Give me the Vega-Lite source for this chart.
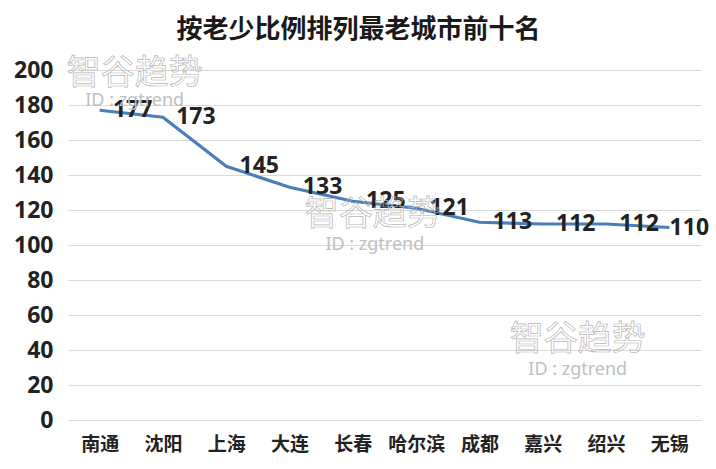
{"$schema":"https://vega.github.io/schema/vega-lite/v6.json","width":633,"height":350,"padding":{"left":68,"top":70,"right":15,"bottom":49},"autosize":{"type":"none"},"background":"white","view":{"stroke":null},"title":{"text":"按老少比例排列最老城市前十名","font":"Noto Sans CJK SC","fontSize":26,"fontWeight":"bold","color":"#1a1a1a","anchor":"middle","dx":-26,"offset":14},"datasets":{"main":[{"city":"南通","v":177},{"city":"沈阳","v":173},{"city":"上海","v":145},{"city":"大连","v":133},{"city":"长春","v":125},{"city":"哈尔滨","v":121},{"city":"成都","v":113},{"city":"嘉兴","v":112},{"city":"绍兴","v":112},{"city":"无锡","v":110}]},"encoding":{"x":{"field":"city","type":"nominal","sort":["南通","沈阳","上海","大连","长春","哈尔滨","成都","嘉兴","绍兴","无锡"],"scale":{"type":"point","padding":0.5},"axis":{"title":null,"labelAngle":0,"labelFont":"Noto Sans CJK SC","labelFontSize":19,"labelFontWeight":"bold","labelColor":"#222222","domainColor":"#d9d9d9","ticks":false,"labelPadding":15,"grid":false}},"y":{"field":"v","type":"quantitative","scale":{"domain":[0,200]},"axis":{"title":null,"values":[0,20,40,60,80,100,120,140,160,180,200],"labelOverlap":false,"labelFont":"Noto Sans","labelFontSize":23,"labelFontWeight":"bold","labelColor":"#222222","domain":false,"ticks":false,"gridColor":"#d9d9d9","labelPadding":15}}},"layer":[{"data":{"name":"main"},"mark":{"type":"line","color":"#4a7ebb","strokeWidth":3.2}},{"data":{"name":"main"},"transform":[{"filter":"datum.city !== '无锡'"}],"mark":{"type":"text","font":"Noto Sans","fontSize":23,"fontWeight":"bold","color":"#222222","align":"center","dx":33},"encoding":{"text":{"field":"v","type":"quantitative"}}},{"data":{"name":"main"},"transform":[{"filter":"datum.city === '无锡'"}],"mark":{"type":"text","font":"Noto Sans","fontSize":23,"fontWeight":"bold","color":"#222222","align":"center","dx":20},"encoding":{"text":{"field":"v","type":"quantitative"}}},{"data":{"values":[{"city":"南通","v":198,"t":"智谷趋势"},{"city":"嘉兴","v":45.5,"t":"智谷趋势"}]},"mark":{"type":"text","font":"Noto Sans CJK SC","fontSize":34,"fill":"transparent","stroke":"#b5b5b5","strokeWidth":0.7,"align":"center","dx":35},"encoding":{"text":{"field":"t"}}},{"data":{"values":[{"city":"长春","v":117,"t":"智谷趋势"}]},"mark":{"type":"text","font":"Noto Sans CJK SC","fontSize":34,"fill":"transparent","stroke":"#b5b5b5","strokeWidth":0.7,"align":"center","dx":20},"encoding":{"text":{"field":"t"}}},{"data":{"values":[{"city":"南通","v":182.5,"t":"ID : zgtrend"},{"city":"嘉兴","v":28.5,"t":"ID : zgtrend"}]},"mark":{"type":"text","font":"Noto Sans","fontSize":18,"color":"#c0c0c0","align":"center","dx":35},"encoding":{"text":{"field":"t"}}},{"data":{"values":[{"city":"长春","v":100,"t":"ID : zgtrend"}]},"mark":{"type":"text","font":"Noto Sans","fontSize":18,"color":"#c0c0c0","align":"center","dx":22},"encoding":{"text":{"field":"t"}}}]}
